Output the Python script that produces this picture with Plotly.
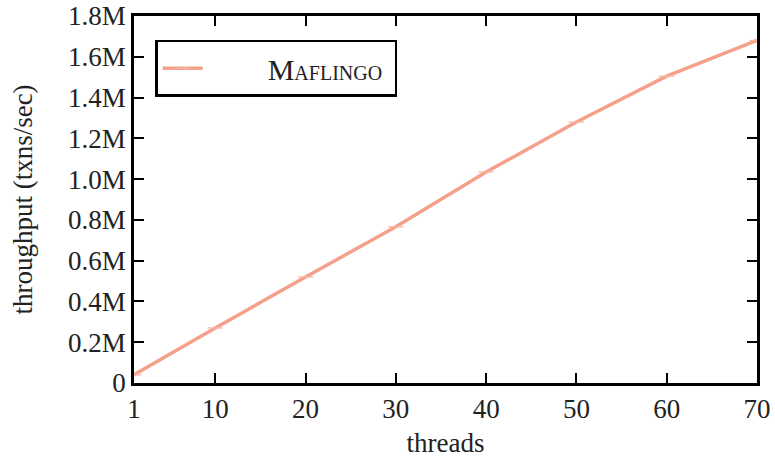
import plotly.graph_objects as go

threads = [1, 10, 20, 30, 40, 50, 60, 70]
throughput = [40000, 270000, 520000, 766000, 1035000, 1280000, 1505000, 1680000]
x_ticks = [1, 10, 20, 30, 40, 50, 60, 70]
y_ticks = [0, 200000, 400000, 600000, 800000, 1000000, 1200000, 1400000, 1600000, 1800000]
y_labels = ["0", "0.2M", "0.4M", "0.6M", "0.8M", "1.0M", "1.2M", "1.4M", "1.6M", "1.8M"]

FONT = "Liberation Serif"
COLOR = "#F4A08A"

fig = go.Figure()
fig.add_trace(go.Scatter(
    x=threads, y=throughput, mode="lines+markers",
    name="&nbsp;&nbsp;&nbsp;&nbsp;&nbsp;&nbsp;&nbsp;&nbsp;M<span style='font-size:20px'>AFLINGO</span>&nbsp;",
    line=dict(color=COLOR, width=3.5),
    marker=dict(symbol="line-ew", size=11, line=dict(color="#F7B8A6", width=1.3), color=COLOR),
))

axis_common = dict(
    showline=True, linecolor="black", linewidth=2.5, mirror="ticks",
    ticks="inside", ticklen=10, tickwidth=1.8, tickcolor="black",
    showgrid=False, zeroline=False, automargin=False,
    tickfont=dict(family=FONT, size=27, color="#222"),
)

fig.update_layout(
    width=775, height=459,
    margin=dict(l=134, r=18, t=16, b=76),
    paper_bgcolor="white", plot_bgcolor="white",
    font=dict(family=FONT, color="#222"),
    xaxis=dict(range=[1, 70], tickvals=x_ticks, ticktext=[str(t) for t in x_ticks],
               title=dict(text="threads", font=dict(family=FONT, size=27), standoff=10),
               **axis_common),
    yaxis=dict(range=[0, 1800000], tickvals=y_ticks, ticktext=y_labels,
               title=dict(text="throughput (txns/sec)", font=dict(family=FONT, size=27), standoff=28),
               **axis_common),
    showlegend=True,
    legend=dict(x=0.034, y=0.935, xanchor="left", yanchor="top",
                bordercolor="black", borderwidth=2.5, bgcolor="white",
                font=dict(family=FONT, size=30, color="#222"),
                itemwidth=40, tracegroupgap=0),
)

fig.write_html("out.html", config={"displayModeBar": False},
               post_script="document.body.style.margin='0';")
